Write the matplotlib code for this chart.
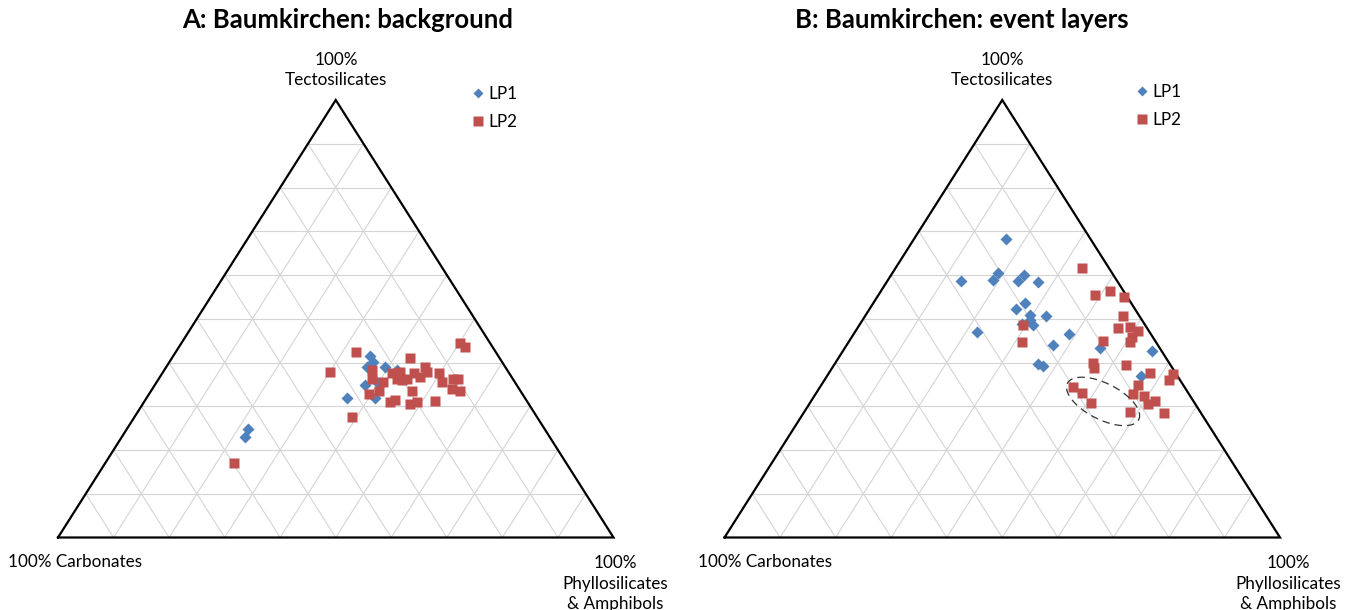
import numpy as np
import matplotlib
matplotlib.use("Agg")
import matplotlib.pyplot as plt
from matplotlib.lines import Line2D

plt.rcParams['font.family'] = ['Lato', 'DejaVu Sans']

# ternary data in % (tecto, phyllo); carbonates = 100 - tecto - phyllo
# A: background
a_lp1_tecto = [41.6, 40.1, 39.0, 39.0, 35.5, 34.8, 32.0, 31.9, 24.7, 23.0, 38.2]
a_lp1_phyllo = [35.4, 36.7, 39.4, 36.1, 39.6, 37.9, 41.1, 36.0, 21.9, 22.2, 41.9]

a_lp2_tecto = [42.4, 37.8, 41.0, 44.5, 43.5, 38.4, 36.3, 32.9, 33.6, 35.5, 37.5,
               37.8, 36.3, 37.5, 36.7, 39.0, 37.8, 33.6, 37.6, 35.5, 36.3, 36.3,
               34.0, 33.6, 31.0, 31.5, 30.6, 31.0, 31.1, 27.5, 17.0, 36.3, 35.9]
a_lp2_phyllo = [32.4, 30.1, 42.9, 50.2, 51.5, 37.3, 38.3, 39.5, 40.9, 40.8, 41.4,
                42.7, 44.6, 45.3, 46.9, 46.6, 47.5, 46.9, 49.7, 51.3, 53.0, 53.9,
                53.9, 55.6, 44.3, 44.9, 48.1, 49.1, 52.3, 39.1, 23.1, 42.8, 43.9]

# B: event layers
b_lp1_tecto = [68.2, 58.6, 58.8, 60.5, 58.6, 60.0, 58.4, 53.6, 52.3, 50.8, 49.7,
               48.5, 50.6, 47.0, 46.6, 43.9, 39.6, 39.3, 43.3, 42.6, 36.9, 48.7]
b_lp1_phyllo = [16.6, 13.3, 18.9, 19.0, 23.6, 24.0, 27.3, 27.3, 26.3, 29.6, 30.2,
                31.3, 32.6, 21.9, 38.8, 37.1, 36.7, 37.6, 45.9, 55.7, 56.6, 29.2]

b_lp2_tecto = [61.6, 55.4, 56.3, 54.9, 50.6, 48.0, 48.1, 47.1, 45.8, 44.7, 44.9,
               48.5, 44.6, 39.9, 38.7, 39.5, 37.7, 37.3, 36.1, 34.9, 34.4, 33.0,
               32.9, 32.3, 31.1, 30.6, 30.7, 28.8, 28.4]
b_lp2_phyllo = [33.5, 39.0, 41.2, 44.5, 46.4, 46.9, 48.9, 50.9, 50.4, 50.7, 45.6,
                29.5, 31.2, 46.3, 47.1, 52.6, 57.7, 62.1, 62.0, 57.0, 45.6, 47.8,
                57.0, 59.3, 61.9, 61.0, 50.6, 58.6, 64.9]

blue = '#4F81BD'
red = '#C0504D'
W, H = 1357, 610


def tern_xy(tecto, phyllo):
    t = np.asarray(tecto) / 100.0
    p = np.asarray(phyllo) / 100.0
    return p + t / 2, t


def draw_triangle(ax):
    for i in range(1, 10):
        f = i / 10
        ax.plot([f / 2, 1 - f / 2], [f, f], color='#d4d4d4', lw=0.8, zorder=1)
        ax.plot([f, (1 + f) / 2], [0, 1 - f], color='#d4d4d4', lw=0.8, zorder=1)
        ax.plot([1 - f, (1 - f) / 2], [0, 1 - f], color='#d4d4d4', lw=0.8, zorder=1)
    ax.plot([0, 1, 0.5, 0], [0, 0, 1, 0], color='black', lw=1.6, zorder=2,
            solid_joinstyle='miter', clip_on=False)
    ax.set_xlim(0, 1)
    ax.set_ylim(0, 1)
    ax.axis('off')


def px_axes(fig, x0, x1, ytop, ybot):
    return fig.add_axes([x0 / W, 1 - ybot / H, (x1 - x0) / W, (ybot - ytop) / H])


fig = plt.figure(figsize=(W / 100, H / 100), dpi=100)

axA = px_axes(fig, 58, 613.5, 100, 537.5)
axB = px_axes(fig, 724.5, 1280, 100, 537.5)

panels = [
    (axA, a_lp1_tecto, a_lp1_phyllo, a_lp2_tecto, a_lp2_phyllo),
    (axB, b_lp1_tecto, b_lp1_phyllo, b_lp2_tecto, b_lp2_phyllo),
]
for ax, t1, p1, t2, p2 in panels:
    draw_triangle(ax)
    x, y = tern_xy(t1, p1)
    ax.plot(x, y, 'D', color=blue, ms=6, mec='none', zorder=3, clip_on=False)
    x, y = tern_xy(t2, p2)
    ax.plot(x, y, 's', color=red, ms=7.6, mec='none', zorder=4, clip_on=False)

# dashed ellipse on panel B (drawn in pixel units, then scaled)
cx, cy = tern_xy([31.1], [52.6])
th = np.linspace(0, 2 * np.pi, 200)
phi = np.deg2rad(-27)
ea, eb = 40, 18
ex = ea * np.cos(th) * np.cos(phi) - eb * np.sin(th) * np.sin(phi)
ey = ea * np.cos(th) * np.sin(phi) + eb * np.sin(th) * np.cos(phi)
axB.plot(cx[0] + ex / 555.5, cy[0] + ey / 437.5, color='#333333', lw=0.9,
         ls=(0, (6, 4)), zorder=5)

# titles
fig.text(348 / W, 1 - 20 / H, 'A: Baumkirchen: background', ha='center', va='center',
         fontsize=18.5, fontweight='bold')
fig.text(962 / W, 1 - 20 / H, 'B: Baumkirchen: event layers', ha='center', va='center',
         fontsize=18.5, fontweight='bold')

# corner labels
for xa, xr, xl in [(336, 615, 8), (1002, 1288, 698)]:
    fig.text(xa / W, 1 - 70 / H, '100%\nTectosilicates', ha='center', va='center',
             fontsize=12.3, linespacing=1.35)
    fig.text(xl / W, 1 - 562 / H, '100% Carbonates', ha='left', va='center', fontsize=12.3)
    fig.text(xr / W, 1 - 555 / H, '100%\nPhyllosilicates\n& Amphibols', ha='center',
             va='top', fontsize=12.3, linespacing=1.35)

# legends
handles = [Line2D([], [], marker='D', color=blue, ls='none', ms=5, mec='none'),
           Line2D([], [], marker='s', color=red, ls='none', ms=7, mec='none')]
for lx, ly in [(473, 86), (1137, 84)]:
    fig.legend(handles, ['LP1', 'LP2'], loc='upper left',
               bbox_to_anchor=(lx / W, 1 - ly / H), bbox_transform=fig.transFigure,
               frameon=False, fontsize=12.3, handlelength=0.6, handletextpad=0.3,
               labelspacing=0.72, borderpad=0, borderaxespad=0)

fig.savefig('out.png', dpi=100)
